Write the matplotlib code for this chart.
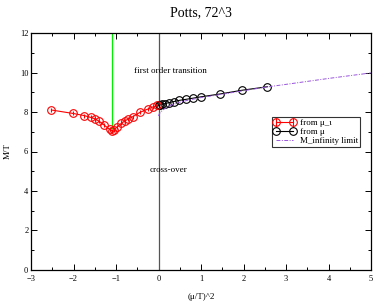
import numpy as np
import matplotlib
matplotlib.use('Agg')
import matplotlib.pyplot as plt
from matplotlib.ticker import MultipleLocator

plt.rcParams['font.family'] = ['Liberation Serif', 'DejaVu Serif']

# from imaginary mu (negative x)
x_imag = [-2.52, -2.02, -1.75, -1.6, -1.49, -1.39, -1.28, -1.15, -1.1, -1.05,
          -0.97, -0.88, -0.8, -0.71, -0.6, -0.44, -0.25, -0.12, -0.03]
m_imag = [8.1, 7.93, 7.82, 7.73, 7.65, 7.52, 7.34, 7.12, 7.05, 7.1,
          7.25, 7.42, 7.54, 7.65, 7.77, 7.98, 8.15, 8.27, 8.33]
err_imag = [0.1] * len(x_imag)

# from real mu
x_real = [0.01, 0.04, 0.09, 0.16, 0.25, 0.36, 0.49, 0.64, 0.81, 1.0, 1.44, 1.96, 2.56]
m_real = [8.33, 8.36, 8.39, 8.43, 8.48, 8.53, 8.59, 8.64, 8.7, 8.77, 8.91, 9.1, 9.28]

# M_infinity limit
x_inf = [0.0, 0.02, 0.05, 0.1, 0.2, 0.3, 0.5, 0.7, 1.0, 1.5, 2.0, 2.56, 3.0, 3.5, 4.0, 4.5, 5.0]
m_inf = [7.8, 7.92, 8.0, 8.1, 8.25, 8.35, 8.5, 8.6, 8.73, 8.9, 9.08, 9.27, 9.4, 9.55, 9.7, 9.84, 9.98]

fig = plt.figure(figsize=(3.74, 3.03), dpi=100)
ax = fig.add_axes([0.083, 0.109, 0.909, 0.782])

ax.plot([-1.1, -1.1], [7.2, 12], color='#00ee00', lw=0.9)
ax.plot([0, 0], [0, 12], color='#555555', lw=0.9)

h1 = ax.errorbar(x_imag, m_imag, yerr=err_imag, color='red', lw=0.8, marker='o', ms=5.5,
                 mfc='none', mec='red', mew=0.8, capsize=0, elinewidth=0.8)
h2, = ax.plot(x_real, m_real, color='black', lw=0.8, marker='o', ms=5.5, mfc='none',
              mec='black', mew=0.8)
h3, = ax.plot(x_inf, m_inf, color='#9955dd', lw=0.7, ls=(0, (4, 1.5, 1, 1.5)))

ax.text(-0.58, 10.1, 'first order transition', fontsize=6.5, va='center')
ax.text(-0.22, 5.05, 'cross-over', fontsize=6.5, va='center')

ax.set_xlim(-3, 5)
ax.set_ylim(0, 12)
ax.xaxis.set_major_locator(MultipleLocator(1))
ax.xaxis.set_minor_locator(MultipleLocator(0.5))
ax.yaxis.set_major_locator(MultipleLocator(2))
ax.yaxis.set_minor_locator(MultipleLocator(1))
ax.tick_params(which='both', direction='in', top=True, right=True, labelsize=6, pad=2)
ax.tick_params(axis='x', pad=3.5)
ax.tick_params(which='major', length=4, width=0.7)
ax.tick_params(which='minor', length=2, width=0.7)
for s in ax.spines.values():
    s.set_linewidth(0.9)

ax.set_xlabel('(μ/T)^2', fontsize=6.5, labelpad=7)
ax.set_ylabel('M/T', fontsize=6.5, labelpad=6)
ax.set_title('Potts, 72^3', fontsize=10, pad=12)

leg = ax.legend([h1, h2, h3], ['from μ_ι', 'from μ', 'M_infinity limit'],
                loc='upper left', bbox_to_anchor=(0.708, 0.645), fontsize=6.5,
                numpoints=2, frameon=True, fancybox=False, edgecolor='black',
                borderpad=0.2, labelspacing=0.05, handlelength=2.5,
                handletextpad=0.4, borderaxespad=0)
leg.get_frame().set_linewidth(0.8)

fig.savefig('out.png', dpi=100)
